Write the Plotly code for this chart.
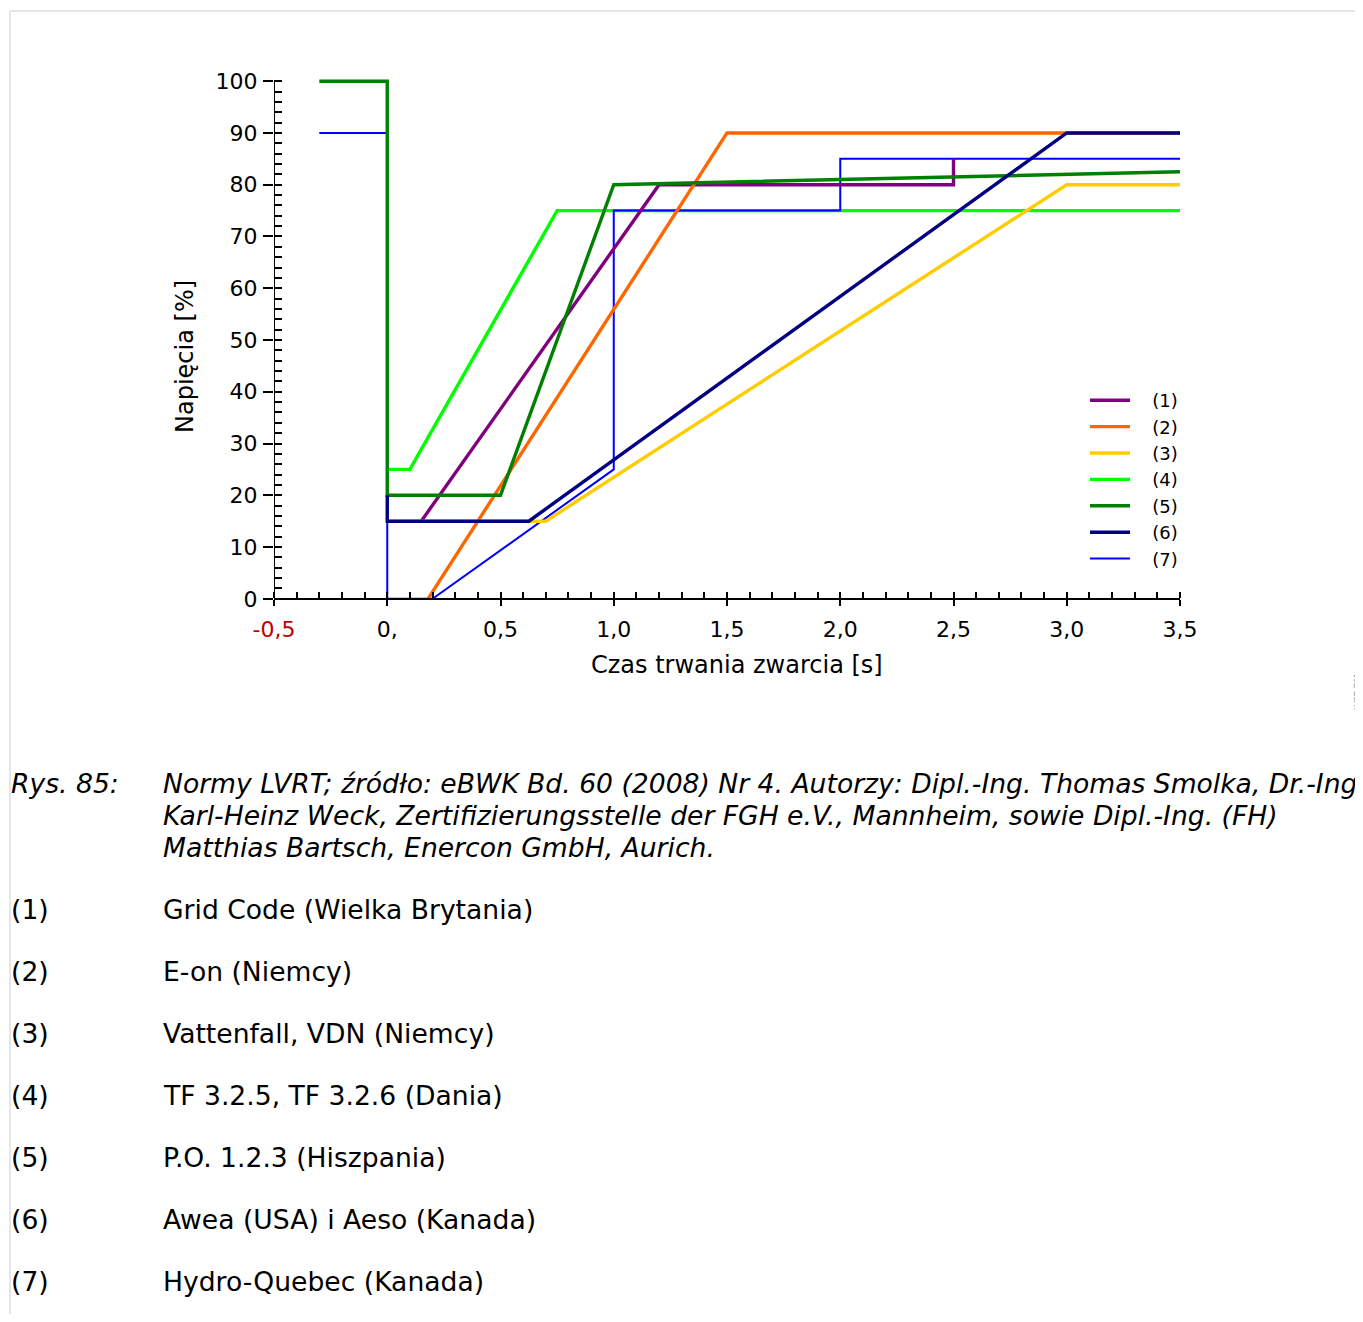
import plotly.graph_objects as go

# dane (czas [s], napięcie [%])
names = ["(1)", "(2)", "(3)", "(4)", "(5)", "(6)", "(7)"]
colors = ["#800080", "#ff6600", "#ffcc00", "#00ff00", "#008000", "#000080", "#0000ff"]

x1 = [0.15, 1.2, 2.5, 2.5]
y1 = [15, 80, 80, 85]
x2 = [0.18, 1.5, 3.5]
y2 = [0, 90, 90]
x3 = [0, 0.7, 3.0, 3.5]
y3 = [15, 15, 80, 80]
x4 = [0, 0.1, 0.75, 3.5]
y4 = [25, 25, 75, 75]
x5 = [-0.3, 0, 0, 0.5, 1.0, 3.5]
y5 = [100, 100, 20, 20, 80, 82.5]
x6 = [0, 0, 0.625, 3.0, 3.5]
y6 = [20, 15, 15, 90, 90]
x7 = [-0.3, 0, 0, 0.2, 1.0, 1.0, 2.0, 2.0, 3.5]
y7 = [90, 90, 0, 0, 25, 75, 75, 85, 85]

xtick_vals = [-0.5, 0, 0.5, 1.0, 1.5, 2.0, 2.5, 3.0, 3.5]
xtick_text = ['<span style="color:#c00000">-0,5</span>', "0,", "0,5", "1,0", "1,5", "2,0", "2,5", "3,0", "3,5"]
ytick_vals = list(range(0, 101, 10))

legend_labels = ["Grid Code (Wielka Brytania)", "E-on (Niemcy)", "Vattenfall, VDN (Niemcy)",
                 "TF 3.2.5, TF 3.2.6 (Dania)", "P.O. 1.2.3 (Hiszpania)",
                 "Awea (USA) i Aeso (Kanada)", "Hydro-Quebec (Kanada)"]
caption = ["Normy LVRT; źródło: eBWK Bd. 60 (2008) Nr 4. Autorzy: Dipl.-Ing. Thomas Smolka, Dr.-Ing.",
           "Karl-Heinz Weck, Zertifizierungsstelle der FGH e.V., Mannheim, sowie Dipl.-Ing. (FH)",
           "Matthias Bartsch, Enercon GmbH, Aurich."]

FONT = "DejaVu Sans"
# body ma margines 8px
O = 8
W, H = 1363 - O, 1322 - 2 * O
L, T = 266, 68
PW, PH = 906, 528
R, B = W - L - PW, H - T - PH


def px(X):
    return (X - O - L) / PW


def py(Y):
    return 1 - (Y - O - T) / PH


series = [(x1, y1), (x2, y2), (x3, y3), (x4, y4), (x5, y5), (x6, y6), (x7, y7)]
order = [3, 6, 0, 1, 2, 4, 5]  # kolejność rysowania

fig = go.Figure()
for i in order:
    xs, ys = series[i]
    fig.add_trace(go.Scatter(
        x=xs, y=ys, mode="lines", name="\u00a0\u00a0\u00a0" + names[i], legendrank=i + 1,
        line=dict(color=colors[i], width=2 if i == 6 else 3.4),
    ))

tickfont = dict(family=FONT, size=22, color="black")

fig.update_layout(
    width=W, height=H,
    margin=dict(l=L, r=R, t=T, b=B, autoexpand=False),
    paper_bgcolor="white", plot_bgcolor="white",
    font=dict(family=FONT, color="black"),
    xaxis=dict(
        range=[-0.5, 3.5], anchor="free", position=1 / 102,
        tickvals=xtick_vals, ticktext=xtick_text, tickfont=tickfont,
        ticks="outside", ticklen=6, tickwidth=1.5, tickcolor="black",
        ticklabelstandoff=5,
        minor=dict(ticks="inside", dtick=0.1, ticklen=6, tickwidth=1.5, tickcolor="black", showgrid=False),
        showline=True, linewidth=2, linecolor="black",
        showgrid=False, zeroline=False,
    ),
    xaxis2=dict(
        range=[-0.5, 3.5], overlaying="x", anchor="free", position=1 / 102,
        tickvals=xtick_vals, showticklabels=False,
        ticks="inside", ticklen=6, tickwidth=1.5, tickcolor="black",
        showgrid=False, zeroline=False, showline=False,
    ),
    yaxis=dict(
        range=[-1, 101], tickvals=ytick_vals, tickfont=tickfont,
        ticks="outside", ticklen=10, tickwidth=1.5, tickcolor="black",
        ticklabelstandoff=1,
        minor=dict(ticks="inside", dtick=2, ticklen=8, tickwidth=1.5, tickcolor="black", showgrid=False),
        showline=False, showgrid=False, zeroline=False,
    ),
    yaxis2=dict(
        range=[-1, 101], overlaying="y", anchor="x", side="left",
        tickvals=ytick_vals, showticklabels=False,
        ticks="inside", ticklen=8, tickwidth=1.5, tickcolor="black",
        showgrid=False, zeroline=False, showline=False,
    ),
    legend=dict(
        x=px(1085), y=py(382), xanchor="left", yanchor="top",
        font=dict(family=FONT, size=18, color="black"),
        bgcolor="rgba(0,0,0,0)", itemwidth=40, tracegroupgap=0,
    ),
    showlegend=True,
)

# oś Y (linia)
fig.add_shape(type="line", xref="x", yref="y", x0=-0.5, x1=-0.5, y0=0, y1=100,
              line=dict(color="black", width=2))

# ramka strony
fig.add_shape(type="line", xref="paper", yref="paper", x0=px(10), x1=px(1370), y0=py(11), y1=py(11),
              line=dict(color="#e6e6e6", width=2))
fig.add_shape(type="line", xref="paper", yref="paper", x0=px(10), x1=px(10), y0=py(11), y1=py(1330),
              line=dict(color="#e6e6e6", width=2))

ann = []
ann.append(dict(text="Czas trwania zwarcia [s]", x=px(736.5), y=py(665), xref="paper", yref="paper",
                showarrow=False, xanchor="center", yanchor="middle", font=dict(family=FONT, size=24)))
ann.append(dict(text="Napięcia [%]", x=px(185), y=py(357), xref="paper", yref="paper", textangle=-90,
                showarrow=False, xanchor="center", yanchor="middle", font=dict(family=FONT, size=24)))
ann.append(dict(text="LVRT Z01", x=px(1358), y=py(692), xref="paper", yref="paper", textangle=-90,
                showarrow=False, xanchor="center", yanchor="middle", font=dict(family=FONT, size=8, color="#999999")))
ann.append(dict(text="<i>Rys. 85:</i>", x=px(9), y=py(783), xref="paper", yref="paper",
                showarrow=False, xanchor="left", yanchor="middle", font=dict(family=FONT, size=26.6)))
for k, line in enumerate(caption):
    ann.append(dict(text="<i>" + line + "</i>", x=px(161), y=py(783 + 32 * k), xref="paper", yref="paper",
                    showarrow=False, xanchor="left", yanchor="middle", font=dict(family=FONT, size=26.6)))
for k, (nm, lab) in enumerate(zip(names, legend_labels)):
    yy = py(909 + 62 * k)
    ann.append(dict(text=nm, x=px(9), y=yy, xref="paper", yref="paper",
                    showarrow=False, xanchor="left", yanchor="middle", font=dict(family=FONT, size=26.6)))
    ann.append(dict(text=lab, x=px(161), y=yy, xref="paper", yref="paper",
                    showarrow=False, xanchor="left", yanchor="middle", font=dict(family=FONT, size=26.6)))
fig.update_layout(annotations=ann)

fig.write_html("out.html")
